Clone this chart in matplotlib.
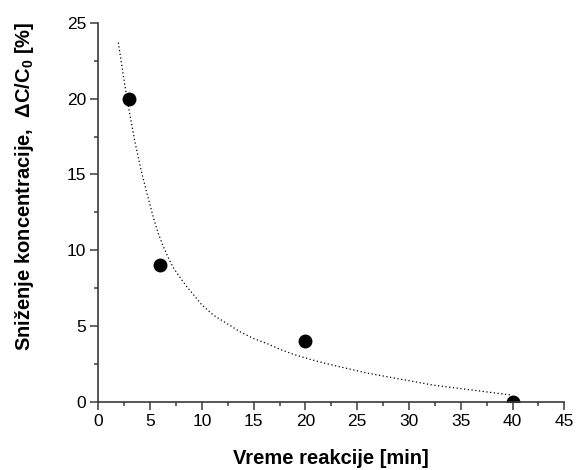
import matplotlib
matplotlib.use("Agg")
import matplotlib.pyplot as plt
from matplotlib.ticker import MultipleLocator

plt.rcParams["font.family"] = ["Liberation Sans", "DejaVu Sans"]
plt.rcParams["mathtext.fontset"] = "custom"
plt.rcParams["mathtext.rm"] = "Liberation Sans"
plt.rcParams["mathtext.bf"] = "Liberation Sans:bold"

# ── Data ──────────────────────────────────────────────────────────────────────
time_min = [3, 6, 20, 40]
reduction_pct = [20, 9, 4, 0]

# dotted trend curve
fit_x = [1.93, 2.42, 2.90, 3.55, 4.19, 4.83, 5.34, 5.79, 6.27, 6.76, 7.24,
         7.89, 8.53, 9.33, 9.98, 11.1, 12.39, 13.68, 14.96, 16.25, 17.54,
         18.82, 20.43, 22.4, 25.96, 32.3, 39.9]
fit_y = [23.7, 21.5, 19.5, 17.1, 15.1, 13.4, 12.1, 11.1, 10.25, 9.5, 8.85,
         8.2, 7.6, 6.95, 6.4, 5.72, 5.17, 4.62, 4.18, 3.85, 3.46,
         3.13, 2.8, 2.45, 1.89, 1.1, 0.44]

# ── Plot ──────────────────────────────────────────────────────────────────────
fig = plt.figure(figsize=(5.76, 4.70), dpi=100)
ax = fig.add_axes([0.1707, 0.1453, 0.809, 0.806])

ax.plot(fit_x, fit_y, color="black", linestyle=(0, (1, 2)), linewidth=0.9)
ax.plot(time_min, reduction_pct, "o", color="black", markersize=9)

ax.set_xlim(0, 45)
ax.set_ylim(0, 25)
ax.xaxis.set_major_locator(MultipleLocator(5))
ax.xaxis.set_minor_locator(MultipleLocator(2.5))
ax.yaxis.set_major_locator(MultipleLocator(5))
ax.yaxis.set_minor_locator(MultipleLocator(2.5))

for side in ["top", "right"]:
    ax.spines[side].set_visible(False)
for side in ["left", "bottom"]:
    ax.spines[side].set_linewidth(1.2)
    ax.spines[side].set_color("#3a3a3a")

ax.tick_params(which="major", direction="out", length=5.8, width=1.1, pad=3,
               labelsize=12.5, colors="#3a3a3a", labelcolor="black")
ax.tick_params(which="minor", direction="out", length=2.9, width=1.1, colors="#3a3a3a")

ax.set_xlabel("Vreme reakcije [min]", fontsize=14.5, fontweight="bold")
ax.set_ylabel(r"Sniženje koncentracije,  ΔC/C$_\mathbf{0}$ [%]", fontsize=14.5,
              fontweight="bold")
ax.xaxis.set_label_coords(0.5, -0.125)
ax.yaxis.set_label_coords(-0.134, 0.569)

fig.savefig("out.png", dpi=100)
